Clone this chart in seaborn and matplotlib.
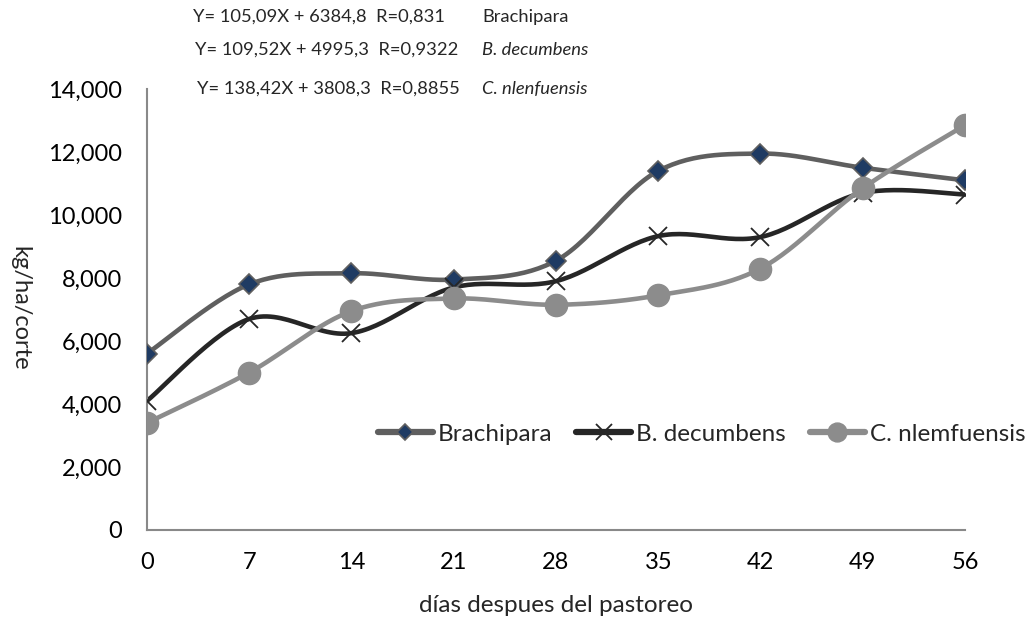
import numpy as np
import pandas as pd
import matplotlib
matplotlib.use("Agg")
import matplotlib.pyplot as plt
from matplotlib.lines import Line2D
from matplotlib.ticker import FuncFormatter
import seaborn as sns

dias = [0, 7, 14, 21, 28, 35, 42, 49, 56]
brachipara = [5600, 7800, 8150, 7950, 8550, 11400, 11950, 11500, 11100]
decumbens = [4100, 6700, 6250, 7700, 7900, 9330, 9300, 10700, 10650]
nlemfuensis = [3400, 5000, 6950, 7350, 7150, 7450, 8300, 10850, 12850]

series_names = ["Brachipara", "B. decumbens", "C. nlemfuensis"]
ecuaciones = ["Y= 105,09X + 6384,8  R=0,831",
              "Y= 109,52X + 4995,3  R=0,9322",
              "Y= 138,42X + 3808,3  R=0,8855"]
etiquetas_ec = ["Brachipara", "B. decumbens", "C. nlenfuensis"]

sns.set_style("white")
plt.rcParams["font.family"] = ["Lato", "DejaVu Sans"]


def smooth(x, y, n=30):
    # Excel-like smoothed line: Catmull-Rom as cubic Bezier segments
    p = np.column_stack([x, y]).astype(float)
    pts = [p[0]]
    for i in range(len(p) - 1):
        p0 = p[i - 1] if i > 0 else p[i]
        p3 = p[i + 2] if i + 2 < len(p) else p[i + 1]
        c1 = p[i] + (p[i + 1] - p0) / 6
        c2 = p[i + 1] - (p3 - p[i]) / 6
        t = np.linspace(0, 1, n)[1:, None]
        seg = ((1 - t) ** 3) * p[i] + 3 * ((1 - t) ** 2) * t * c1 \
            + 3 * (1 - t) * t ** 2 * c2 + t ** 3 * p[i + 1]
        pts.extend(seg)
    pts = np.array(pts)
    return pts[:, 0], pts[:, 1]


fig = plt.figure(figsize=(10.29, 6.19), dpi=100)
ax = fig.add_axes([147 / 1029, 1 - 530 / 619, (965 - 147) / 1029, (530 - 89) / 619])

styles = {
    "Brachipara": dict(color="#5f5f5f", marker="D", mfc="#1f3b63", mec="#5f5f5f", ms=10, mew=1.2, lw=3.3),
    "B. decumbens": dict(color="#262626", marker="x", mfc="#262626", mec="#262626", ms=13, mew=1.3, lw=3.3),
    "C. nlemfuensis": dict(color="#8c8c8c", marker="o", mfc="#8c8c8c", mec="#8c8c8c", ms=16, mew=1, lw=3.3),
}

for name, vals in zip(series_names, [brachipara, decumbens, nlemfuensis]):
    st = styles[name]
    sx, sy = smooth(dias, vals)
    sns.lineplot(x=sx, y=sy, ax=ax, color=st["color"], lw=st["lw"], sort=False,
                 estimator=None, solid_capstyle="round")
    ax.plot(dias, vals, ls="none", marker=st["marker"], mfc=st["mfc"], mec=st["mec"],
            ms=st["ms"], mew=st["mew"], zorder=5)

ax.set_xlim(0, 56)
ax.set_ylim(0, 14000)
ax.set_xticks(dias)
ax.set_yticks(np.arange(0, 14001, 2000))
ax.yaxis.set_major_formatter(FuncFormatter(lambda v, _: f"{int(v):,}"))
ax.tick_params(axis="both", length=0, labelsize=17, colors="#000000")
ax.tick_params(axis="x", pad=16)
ax.tick_params(axis="y", pad=18)
for s in ["top", "right"]:
    ax.spines[s].set_visible(False)
for s in ["left", "bottom"]:
    ax.spines[s].set_color("#898989")
    ax.spines[s].set_linewidth(1.5)
ax.set_xlabel("")
ax.set_ylabel("")

fig.text(556 / 1029, 1 - 605 / 619, "días despues del pastoreo", ha="center", va="center", fontsize=17.5)
fig.text(20 / 1029, 1 - 308 / 619, "kg/ha/corte", ha="center", va="center", rotation=-90, fontsize=17)

handles = []
for name in series_names:
    st = styles[name]
    handles.append(Line2D([], [], color=st["color"], lw=4.5, marker=st["marker"], mfc=st["mfc"],
                          mec=st["mec"], ms=st["ms"] * 0.85, mew=st["mew"]))
fig.legend(handles, series_names, loc="center left", bbox_to_anchor=(378 / 1029, 1 - 434 / 619),
           ncol=3, frameon=False, fontsize=17.5, handlelength=2.25, handletextpad=0.2,
           columnspacing=1.0, borderpad=0, borderaxespad=0)

ys = [17, 50, 89]
xs = [193, 195, 197]
for y, x, ec, lab in zip(ys, xs, ecuaciones, etiquetas_ec):
    fig.text(x / 1029, 1 - y / 619, ec, ha="left", va="center", fontsize=13.2)
    fig.text(482 / 1029, 1 - y / 619, lab, ha="left", va="center", fontsize=13.2,
             style="normal" if lab == "Brachipara" else "italic")

fig.savefig("out.png", dpi=100)
